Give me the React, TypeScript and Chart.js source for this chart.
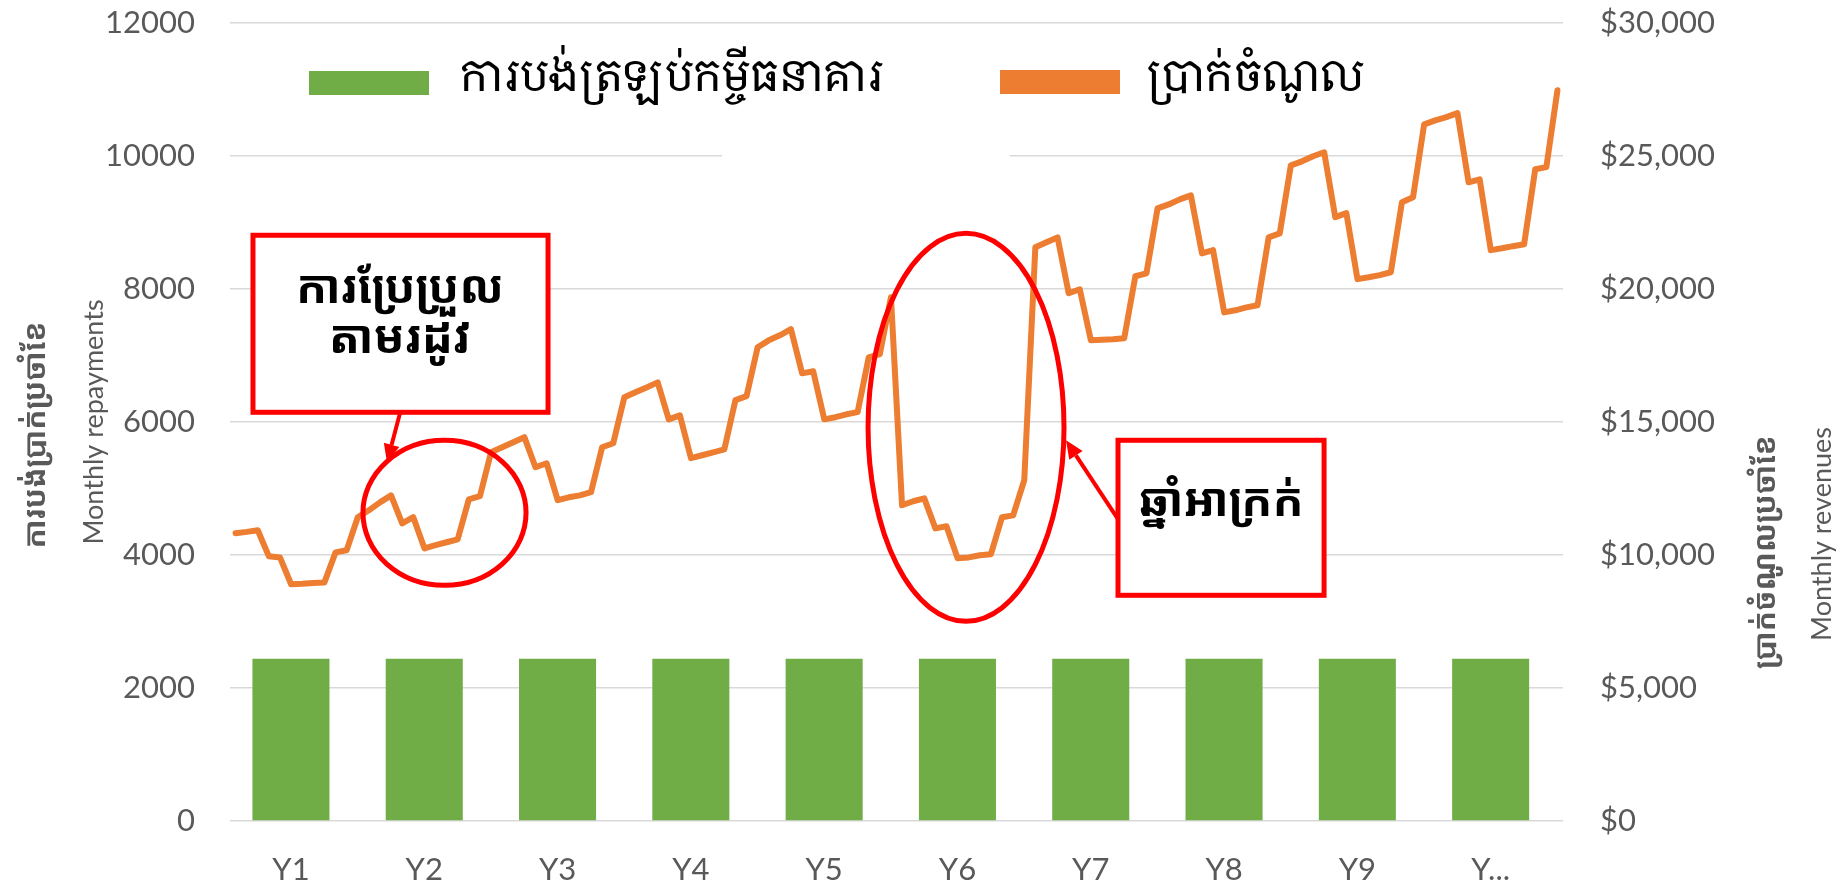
import React, { useEffect, useRef } from "react";
import { Chart, registerables } from "chart.js";

Chart.register(...registerables);

// ---------- data ----------
const years = ["Y1", "Y2", "Y3", "Y4", "Y5", "Y6", "Y7", "Y8", "Y9", "Y..."];
const repayments = [2440, 2440, 2440, 2440, 2440, 2440, 2440, 2440, 2440, 2440];

// monthly revenues, 12 per year (Y1..Y10)
const revenuesY1 = [10820, 10870, 10930, 9950, 9910, 8900, 8920, 8950, 8970, 10100, 10180, 11420];
const revenuesY2 = [11680, 11980, 12240, 11190, 11420, 10250, 10370, 10480, 10590, 12090, 12210, 13860];
const revenuesY3 = [14050, 14240, 14430, 13300, 13450, 12060, 12170, 12240, 12360, 14050, 14200, 15930];
const revenuesY4 = [16120, 16300, 16490, 15100, 15250, 13640, 13750, 13860, 13970, 15820, 15970, 17810];
const revenuesY5 = [18070, 18260, 18490, 16830, 16910, 15100, 15180, 15290, 15370, 17430, 17550, 19690];
const revenuesY6 = [11870, 12020, 12130, 11000, 11080, 9880, 9910, 9990, 10030, 11420, 11490, 12810];
const revenuesY7 = [21570, 21760, 21940, 19840, 19990, 18070, 18090, 18110, 18150, 20480, 20590, 23030];
const revenuesY8 = [23180, 23370, 23520, 21340, 21460, 19120, 19200, 19310, 19390, 21940, 22090, 24650];
const revenuesY9 = [24800, 24990, 25140, 22700, 22850, 20370, 20440, 20520, 20630, 23260, 23450, 26190];
const revenuesY10 = [26340, 26460, 26610, 24010, 24120, 21460, 21530, 21610, 21680, 24500, 24580, 27470];
const revenues = [
  ...revenuesY1, ...revenuesY2, ...revenuesY3, ...revenuesY4, ...revenuesY5,
  ...revenuesY6, ...revenuesY7, ...revenuesY8, ...revenuesY9, ...revenuesY10,
];
const monthLabels = revenues.map((_, i) => `${years[Math.floor(i / 12)]}-M${(i % 12) + 1}`);

const leftMax = 12000;
const leftStep = 2000;
const rightMax = 30000;
const rightStep = 5000;

const seriesNames = ["ការបង់ត្រឡប់កម្ចីធនាគារ", "ប្រាក់ចំណូល"];
const leftTitleKh = "ការបង់ប្រាក់ប្រចាំខែ";
const leftTitleEn = "Monthly repayments";
const rightTitleKh = "ប្រាក់ចំណូលប្រចាំខែ";
const rightTitleEn = "Monthly revenues";
const note1Lines = ["ការប្រែប្រួល", "តាមរដូវ"];
const note2Text = "ឆ្នាំអាក្រក់";

// ---------- styles ----------
const GREEN = "#70AD47";
const ORANGE = "#ED7D31";
const RED = "#FF0000";
const GRID = "#D9D9D9";
const TICK = "#595959";
const LATIN = "Lato, 'Open Sans', 'Noto Sans', sans-serif";
const KHMER = "'Noto Sans Khmer', 'Noto Serif Khmer', 'Khmer OS', 'Khmer OS System', Hanuman, 'Noto Sans', sans-serif";
const KHMER_SERIF = "'Noto Serif Khmer', 'Khmer OS Content', 'Khmer OS', 'Noto Sans Khmer', serif";
const CATEGORY_SHIFT = -5.7; // the bar category axis sits slightly left of the plot in the source

function arrow(ctx: CanvasRenderingContext2D, x1: number, y1: number, x2: number, y2: number) {
  const ang = Math.atan2(y2 - y1, x2 - x1);
  const headLen = 18;
  const headW = 8;
  const bx = x2 - headLen * Math.cos(ang);
  const by = y2 - headLen * Math.sin(ang);
  ctx.beginPath();
  ctx.moveTo(x1, y1);
  ctx.lineTo(bx, by);
  ctx.lineWidth = 4;
  ctx.strokeStyle = RED;
  ctx.stroke();
  ctx.beginPath();
  ctx.moveTo(x2, y2);
  ctx.lineTo(bx + headW * Math.sin(ang), by - headW * Math.cos(ang));
  ctx.lineTo(bx - headW * Math.sin(ang), by + headW * Math.cos(ang));
  ctx.closePath();
  ctx.fillStyle = RED;
  ctx.fill();
}

const decorPlugin = {
  id: "decor",
  afterLayout(chart: any) {
    const s = chart.scales.x;
    s.left += CATEGORY_SHIFT;
    s.right += CATEGORY_SHIFT;
    s.configure();
  },
  beforeDatasetsDraw(chart: any) {
    const { ctx, scales } = chart;
    const xm = scales.x2;
    const y = scales.y;
    // white patch hiding part of the 10000 gridline (as in the source)
    const l = xm.getPixelForValue(43.8);
    const r = xm.getPixelForValue(69.7);
    const t = y.getPixelForValue(10400);
    const b = y.getPixelForValue(9600);
    ctx.save();
    ctx.fillStyle = "#FFFFFF";
    ctx.fillRect(l, t, r - l, b - t);
    ctx.restore();
  },
  afterDraw(chart: any) {
    const { ctx, scales } = chart;
    const xm = scales.x2;
    const y = scales.y;
    const X = (i: number) => xm.getPixelForValue(i);
    const Y = (v: number) => y.getPixelForValue(v);
    const area = chart.chartArea;
    const midY = (area.top + area.bottom) / 2;

    ctx.save();
    // ---- legend ----
    const ds = chart.data.datasets;
    ctx.textAlign = "left";
    ctx.textBaseline = "middle";
    ctx.font = `44px ${KHMER_SERIF}`;
    ctx.fillStyle = ds[0].backgroundColor;
    ctx.fillRect(309, 71, 120, 24);
    ctx.fillStyle = "#000000";
    ctx.fillText(ds[0].label, 460, 78);
    ctx.fillStyle = ds[1].borderColor;
    ctx.fillRect(1000, 70, 120, 24);
    ctx.fillStyle = "#000000";
    ctx.fillText(ds[1].label, 1146, 78);

    // ---- axis titles ----
    const vText = (txt: string, cx: number, cy: number, font: string, color: string) => {
      ctx.save();
      ctx.translate(cx, cy);
      ctx.rotate(-Math.PI / 2);
      ctx.textAlign = "center";
      ctx.textBaseline = "middle";
      ctx.font = font;
      ctx.fillStyle = color;
      ctx.fillText(txt, 0, 0);
      ctx.restore();
    };
    vText(leftTitleKh, 36, midY + 13, `bold 30px ${KHMER}`, TICK);
    vText(leftTitleEn, 94, midY, `27px ${LATIN}`, TICK);
    vText(rightTitleKh, 1766, midY + 130, `bold 30px ${KHMER}`, TICK);
    vText(rightTitleEn, 1822, midY + 112, `27px ${LATIN}`, TICK);

    // ---- note 1: seasonal variation ----
    ctx.lineWidth = 5;
    ctx.strokeStyle = RED;
    ctx.fillStyle = "#FFFFFF";
    let bx0 = X(1.57), bx1 = X(28.13), by0 = Y(8808), by1 = Y(6146);
    ctx.fillRect(bx0, by0, bx1 - bx0, by1 - by0);
    ctx.strokeRect(bx0, by0, bx1 - bx0, by1 - by0);
    ctx.fillStyle = "#000000";
    ctx.textAlign = "center";
    ctx.textBaseline = "middle";
    ctx.font = `bold 46px ${KHMER}`;
    ctx.fillText(note1Lines[0], X(14.8), Y(7980));
    ctx.fillText(note1Lines[1], X(14.8), Y(7240));
    arrow(ctx, X(14.8), Y(6131), X(13.63), Y(5394));
    ctx.beginPath();
    ctx.ellipse(X(18.81), Y(4635), X(18.81 + 7.34) - X(18.81), Y(4635) - Y(4635 + 1090), 0, 0, Math.PI * 2);
    ctx.lineWidth = 5;
    ctx.strokeStyle = RED;
    ctx.stroke();

    // ---- note 2: bad year ----
    ctx.beginPath();
    ctx.ellipse(X(65.76), Y(5920), X(65.76 + 8.82) - X(65.76), Y(5920) - Y(5920 + 2917), 0, 0, Math.PI * 2);
    ctx.stroke();
    bx0 = X(79.44); bx1 = X(97.99); by0 = Y(5725); by1 = Y(3394);
    ctx.fillStyle = "#FFFFFF";
    ctx.fillRect(bx0, by0, bx1 - bx0, by1 - by0);
    ctx.strokeRect(bx0, by0, bx1 - bx0, by1 - by0);
    ctx.fillStyle = "#000000";
    ctx.font = `bold 46px ${KHMER}`;
    ctx.fillText(note2Text, (bx0 + bx1) / 2, Y(4780));
    arrow(ctx, X(79.44), Y(4540), X(74.76), Y(5725));
    ctx.restore();
  },
};

export default function App() {
  const canvasRef = useRef<HTMLCanvasElement | null>(null);

  useEffect(() => {
    document.body.style.margin = "0";
    const canvas = canvasRef.current;
    if (!canvas) return;
    const tickFont = { family: LATIN, size: 31 };
    const chart = new Chart(canvas, {
      type: "bar",
      data: {
        labels: years,
        datasets: [
          {
            type: "bar",
            label: seriesNames[0],
            data: repayments,
            backgroundColor: GREEN,
            xAxisID: "x",
            yAxisID: "y",
            grouped: false,
            categoryPercentage: 1,
            barPercentage: 0.578,
            order: 2,
          },
          {
            type: "line",
            label: seriesNames[1],
            data: revenues,
            borderColor: ORANGE,
            backgroundColor: ORANGE,
            borderWidth: 6,
            pointRadius: 0,
            tension: 0,
            borderJoinStyle: "round",
            borderCapStyle: "round",
            xAxisID: "x2",
            yAxisID: "y2",
            order: 1,
          },
        ] as any,
      },
      options: {
        responsive: false,
        animation: false,
        devicePixelRatio: 1,
        layout: { padding: { top: 23, left: 0, right: 0, bottom: 0 } },
        plugins: {
          legend: { display: false },
          tooltip: { enabled: false },
          title: { display: false },
        },
        scales: {
          x: {
            type: "category",
            position: "bottom",
            offset: true,
            grid: { display: false, drawTicks: false },
            border: { display: false },
            ticks: { font: tickFont, color: TICK, padding: 30, maxRotation: 0, autoSkip: false },
            afterFit: (s: any) => { s.height = 65; s.paddingLeft = 0; s.paddingRight = 0; },
          },
          x2: {
            type: "category",
            labels: monthLabels,
            display: false,
            offset: true,
          },
          y: {
            position: "left",
            min: 0,
            max: leftMax,
            ticks: { stepSize: leftStep, font: tickFont, color: TICK, padding: 35, callback: (v: any) => String(v) },
            grid: { color: GRID, lineWidth: 1.4, drawTicks: false },
            border: { display: false },
            afterFit: (s: any) => { s.width = 230; s.paddingTop = 0; s.paddingBottom = 0; },
          },
          y2: {
            position: "right",
            min: 0,
            max: rightMax,
            ticks: {
              stepSize: rightStep,
              font: tickFont,
              color: TICK,
              padding: 37,
              callback: (v: any) => "$" + Number(v).toLocaleString("en-US"),
            },
            grid: { display: false, drawTicks: false },
            border: { display: false },
            afterFit: (s: any) => { s.width = 280; s.paddingTop = 0; s.paddingBottom = 0; },
          },
        } as any,
      },
      plugins: [decorPlugin as any],
    });
    return () => chart.destroy();
  }, []);

  return (
    <div style={{ width: 1843, height: 886, background: "#FFFFFF" }}>
      <canvas ref={canvasRef} width={1843} height={886} style={{ display: "block" }} />
    </div>
  );
}
